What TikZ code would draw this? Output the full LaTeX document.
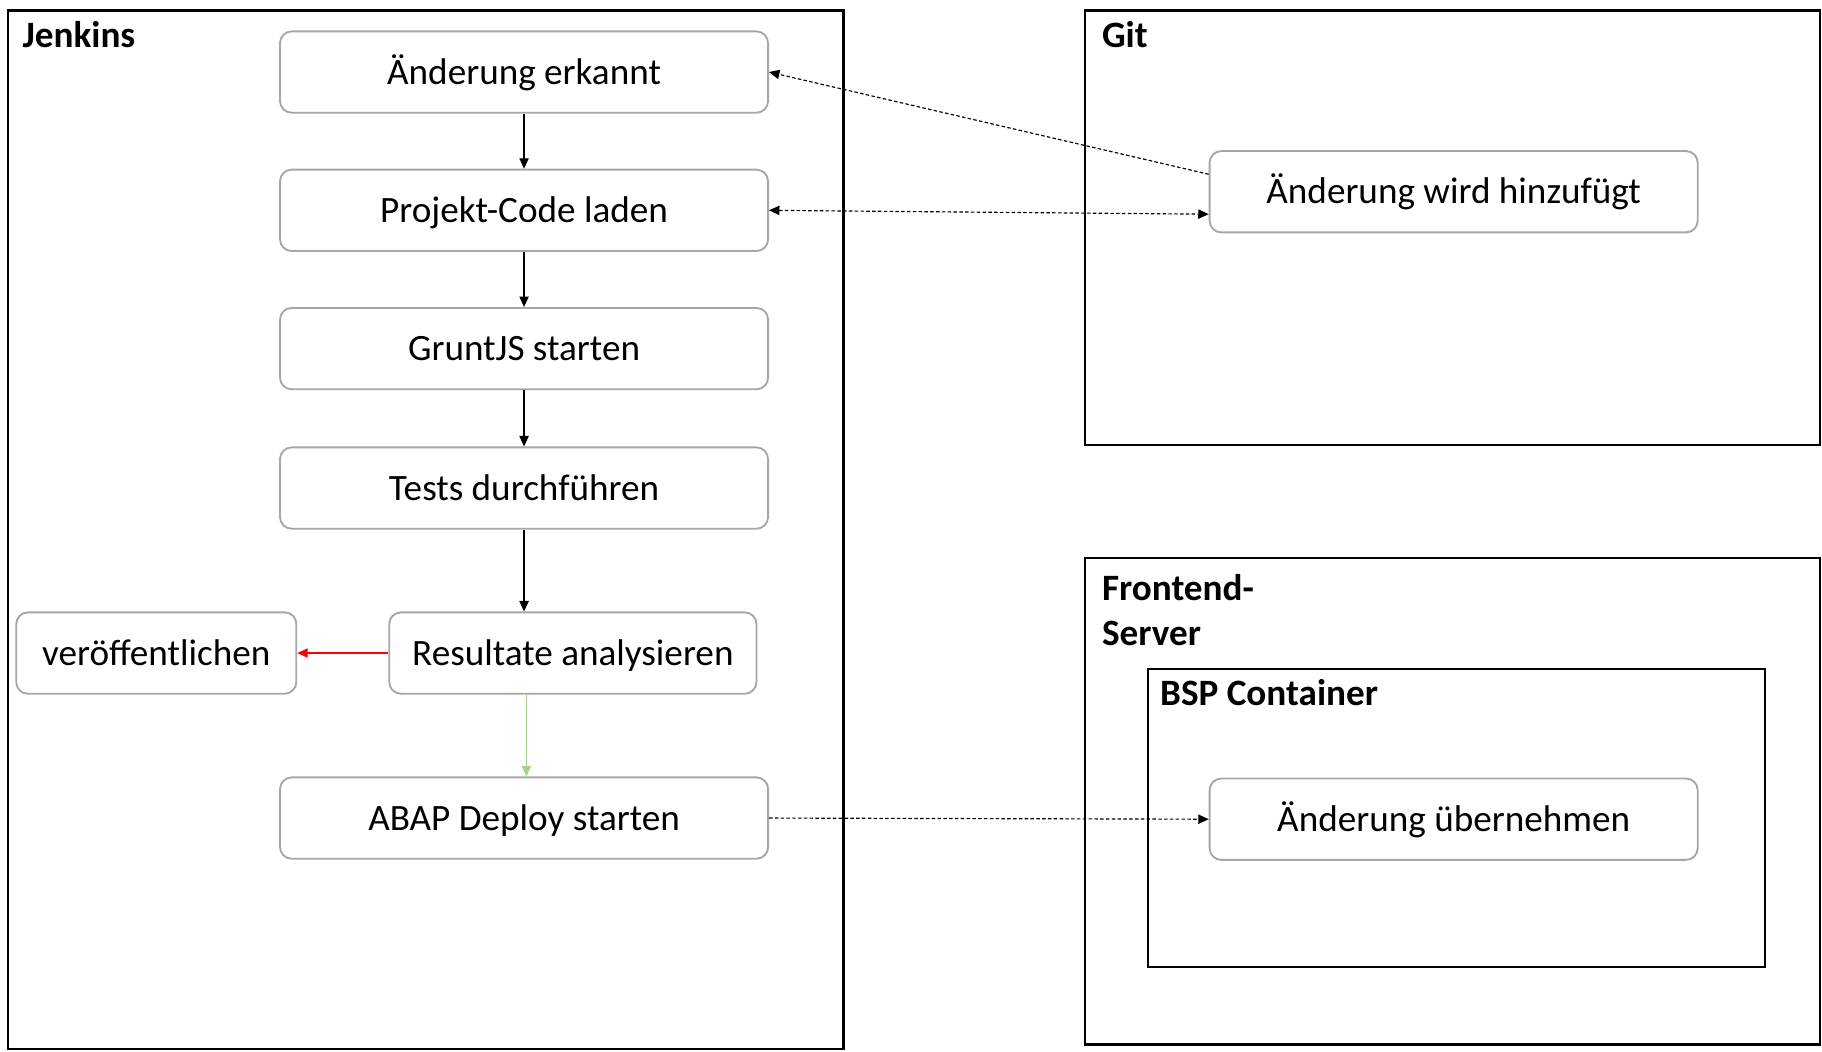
\documentclass[tikz,border=0pt]{standalone}
\usepackage{fontspec}
\setmainfont{Carlito}
\usetikzlibrary{arrows.meta,calc}
\definecolor{nodegray}{HTML}{A6A6A6}
\definecolor{okgreen}{HTML}{A9D18E}
\tikzset{
  stepbox/.style={draw=nodegray,line width=0.8pt,rounded corners=5pt,minimum width=210pt,minimum height=35pt,inner sep=0pt,text height=12.5pt,text depth=2pt,font=\fontsize{16}{19}\selectfont,fill=white},
  groupbox/.style={draw=black,line width=1pt},
  grouptitle/.style={anchor=west,inner sep=0pt,font=\fontsize{16}{19}\selectfont\bfseries},
  flow/.style={line width=0.5pt,-{Triangle[length=4.5pt,width=4pt]}},
  dotflow/.style={line width=0.5pt,dash pattern=on 1.5pt off 1pt,-{Triangle[length=4.5pt,width=4pt]}},
}
\begin{document}
\begin{tikzpicture}[x=0.5pt,y=-0.5pt]
\useasboundingbox (0,0) rectangle (1568,905);
% containers
\draw[groupbox] (7,9) rectangle (726,903);
\draw[groupbox] (934,9) rectangle (1566,383);
\draw[groupbox] (934,480) rectangle (1566,899);
\draw[groupbox] (988,576) rectangle (1519,832);
\node[grouptitle] (tjenkins) at (19,30) {Jenkins};
\node[grouptitle] (tgit) at (948,30) {Git};
\node[grouptitle] (tfront) at (948,506) {Frontend-};
\node[grouptitle] (tserver) at (948,545) {Server};
\node[grouptitle] (tbsp) at (998,596) {BSP Container};
% steps
\node[stepbox] (erk) at (451,62) {Änderung erkannt};
\node[stepbox] (proj) at (451,181) {Projekt-Code laden};
\node[stepbox] (grunt) at (451,300) {GruntJS starten};
\node[stepbox] (tests) at (451,420) {Tests durchführen};
\node[stepbox,minimum width=158pt] (res) at (493,562) {Resultate analysieren};
\node[stepbox,minimum width=120.5pt] (pub) at (134.5,562) {veröffentlichen};
\node[stepbox] (abap) at (451,704) {ABAP Deploy starten};
\node[stepbox] (hinzu) at (1251,165) {Änderung wird hinzufügt};
\node[stepbox] (ueber) at (1251,705) {Änderung übernehmen};
% flow
\draw[flow] (erk.south) -- (proj.north);
\draw[flow] (proj.south) -- (grunt.north);
\draw[flow] (grunt.south) -- (tests.north);
\draw[flow] (tests.south) -- (tests.south |- res.north);
\draw[flow,draw=red,fill=red] (res.west) -- (pub.east);
\draw[flow,draw=okgreen,fill=okgreen] ($(res.south)+(-40,0)$) -- (abap.north -| {$(res.south)+(-40,0)$});
% dotted
\draw[dotflow] ($(hinzu.north west)!0.29!(hinzu.south west)$) -- (erk.east);
\draw[dotflow,{Triangle[length=4.5pt,width=4pt]}-{Triangle[length=4.5pt,width=4pt]}] (proj.east) -- ($(hinzu.north west)!0.77!(hinzu.south west)$);
\draw[dotflow] (abap.east) -- (ueber.west);
\end{tikzpicture}
\end{document}
